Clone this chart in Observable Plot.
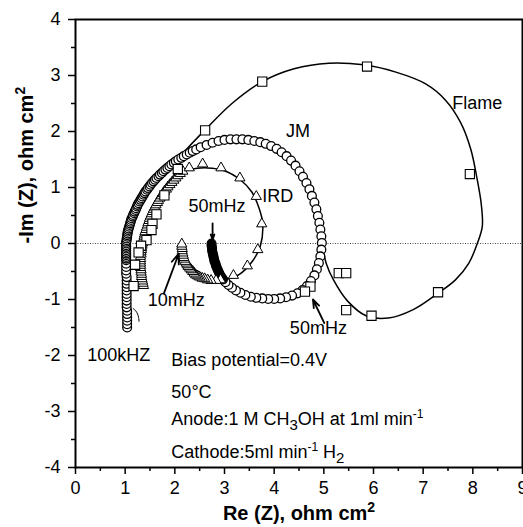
<!DOCTYPE html>
<html><head><meta charset="utf-8">
<script src="https://cdn.jsdelivr.net/npm/d3@7"></script>
<script src="https://cdn.jsdelivr.net/npm/@observablehq/plot@0.6"></script>
<style>html,body{margin:0;padding:0;background:#fff}</style>
</head><body><div id="chart"></div>
<script>
// ---------- axes ----------
const xTicks = [0,1,2,3,4,5,6,7,8,9];
const xMinor = [0.5,1.5,2.5,3.5,4.5,5.5,6.5,7.5,8.5];
const yTicks = [-4,-3,-2,-1,0,1,2,3,4];
const yMinor = [-3.5,-2.5,-1.5,-0.5,0.5,1.5,2.5,3.5];
const xTitle = "Re (Z), ohm cm²";
const yTitle = "-Im (Z), ohm cm²";

// ---------- Flame (squares + fitted line) ----------
const flameRe = [2.61,3.76,5.87,7.94,7.30,5.96,5.45,5.30,5.45,4.73,4.62,2.06,1.79,1.63,1.55,1.53,1.43,1.32,1.27,1.20,1.17];
const flameIm = [2.02,2.89,3.16,1.24,-0.87,-1.29,-1.19,-0.53,-0.53,-0.77,-0.86,1.33,0.86,0.52,0.35,0.24,0.06,-0.04,-0.16,-0.38,-0.76];
const flameFitRe = [1.75,2.0,2.6,3.15,3.76,4.4,5.1,5.8,6.45,7.05,7.45,7.76,7.96,8.08,8.17,8.19,8.09,7.92,7.65,7.28,6.8,6.3,5.85,5.47,5.2,5.05,4.99];
const flameFitIm = [1.25,1.47,2.02,2.5,2.89,3.12,3.22,3.19,3.06,2.85,2.56,2.15,1.68,1.18,0.7,0.3,0.0,-0.35,-0.65,-0.9,-1.18,-1.33,-1.29,-1.02,-0.66,-0.36,-0.12];

// ---------- JM (open circles) ----------
const jmRe = [
  1.04,1.04,1.04,1.04,1.04,1.04,1.03,1.03,1.03,1.03,1.03,1.03,1.03,1.03,1.03,1.03,1.02,1.02,1.02,1.02,1.02,1.02,1.02,1.02,1.02,1.02,1.02,1.02,1.02,1.02,
  1.02,1.02,1.03,1.03,1.04,1.04,1.05,1.05,1.06,1.07,1.08,1.09,1.10,1.11,1.12,1.13,1.15,1.16,1.18,1.19,1.21,1.22,1.24,1.25,1.27,1.29,1.31,1.33,1.35,1.37,
  1.39,1.41,1.44,1.46,1.49,1.51,1.54,1.57,1.60,1.63,1.67,1.70,1.74,1.77,1.81,1.85,1.89,1.93,1.98,2.02,2.07,2.13,2.18,2.24,2.30,2.36,2.43,
  2.52,2.64,2.76,2.88,3.00,3.12,3.24,3.36,3.48,3.60,3.72,3.83,3.94,4.05,4.15,4.25,4.34,4.43,4.51,4.58,4.65,4.71,4.76,4.81,4.85,4.88,4.91,4.93,4.95,4.96,
  4.95,4.93,4.90,4.86,4.81,4.74,4.66,4.57,4.47,4.36,4.24,4.12,4.00,3.88,3.76,3.64,3.53,3.42,3.32,3.23,3.15,3.08,3.02];
const jmIm = [
  -1.50,-1.44,-1.38,-1.32,-1.26,-1.20,-1.14,-1.08,-1.02,-0.96,-0.90,-0.84,-0.78,-0.72,-0.66,-0.60,-0.54,-0.48,-0.42,-0.36,-0.30,-0.27,-0.24,-0.21,-0.18,-0.15,-0.12,-0.09,-0.06,-0.03,
  0.00,0.03,0.06,0.09,0.12,0.15,0.18,0.21,0.24,0.27,0.30,0.33,0.36,0.39,0.42,0.45,0.48,0.51,0.54,0.57,0.60,0.63,0.66,0.69,0.72,0.75,0.78,0.81,0.84,0.87,
  0.90,0.93,0.96,0.99,1.02,1.05,1.08,1.11,1.14,1.17,1.20,1.23,1.26,1.29,1.32,1.35,1.38,1.41,1.44,1.47,1.50,1.53,1.56,1.59,1.62,1.65,1.68,
  1.72,1.76,1.80,1.83,1.85,1.86,1.86,1.86,1.85,1.83,1.81,1.78,1.74,1.69,1.63,1.56,1.48,1.39,1.29,1.19,1.08,0.97,0.85,0.73,0.61,0.49,0.37,0.25,0.13,0.01,
  -0.11,-0.23,-0.35,-0.46,-0.57,-0.67,-0.76,-0.83,-0.89,-0.93,-0.96,-0.98,-0.99,-0.99,-0.98,-0.97,-0.95,-0.92,-0.88,-0.84,-0.79,-0.74,-0.69];
// low-frequency end of JM: points so dense they merge into a solid band
const jmTailRe = [2.97,2.94,2.91,2.89,2.87,2.85,2.83,2.82,2.80,2.79,2.78,2.77,2.76,2.75,2.75,2.74,2.74];
const jmTailIm = [-0.64,-0.60,-0.56,-0.52,-0.48,-0.44,-0.40,-0.36,-0.32,-0.28,-0.24,-0.20,-0.16,-0.12,-0.08,-0.04,0.00];
// short fitted segment near 100 kHz
const jmFitRe = [1.16,1.21,1.25,1.27,1.28];
const jmFitIm = [-1.16,-1.20,-1.26,-1.32,-1.39];

// ---------- IRD (open triangles + fitted line) ----------
const irdRe = [
  1.37,1.36,1.35,1.34,1.33,1.33,1.32,1.32,1.31,1.31,1.31,1.31,1.31,1.31,1.32,1.32,1.33,1.33,1.34,1.35,1.36,1.37,1.38,1.39,1.40,1.42,1.43,1.45,1.46,1.48,
  1.49,1.51,1.53,1.55,1.57,1.60,1.62,1.65,1.67,1.70,1.73,1.76,1.79,1.83,1.86,1.90,1.94,1.98,2.02,2.06,2.11,2.16,
  2.29,2.56,2.93,3.31,3.64,3.75,3.67,3.46,3.18,
  2.92,2.83,2.73,2.66,2.60,2.55,2.50,2.46,2.42,2.39,2.36,2.33,2.30,2.27,2.25,2.23,2.21,2.19,2.18,2.17,2.16,2.15,2.15,2.14,2.14];
const irdIm = [
  -0.75,-0.71,-0.67,-0.63,-0.59,-0.55,-0.51,-0.47,-0.43,-0.39,-0.35,-0.31,-0.27,-0.23,-0.19,-0.15,-0.11,-0.07,-0.03,0.01,0.05,0.09,0.13,0.17,0.21,0.25,0.29,0.33,0.37,0.41,
  0.45,0.49,0.53,0.57,0.61,0.65,0.69,0.73,0.77,0.81,0.85,0.89,0.93,0.97,1.01,1.05,1.09,1.13,1.17,1.21,1.25,1.29,
  1.35,1.42,1.35,1.17,0.84,0.35,-0.11,-0.40,-0.57,
  -0.65,-0.66,-0.66,-0.65,-0.63,-0.62,-0.60,-0.58,-0.56,-0.53,-0.50,-0.47,-0.44,-0.41,-0.38,-0.35,-0.32,-0.28,-0.25,-0.21,-0.17,-0.13,-0.09,-0.05,-0.01];
const irdFitRe = [2.0,2.3,2.65,3.0,3.33,3.55,3.70,3.77,3.72,3.55,3.30,3.0,2.72,2.45,2.30,2.20,2.15];
const irdFitIm = [1.22,1.32,1.35,1.30,1.13,0.92,0.62,0.35,-0.05,-0.33,-0.55,-0.65,-0.67,-0.60,-0.45,-0.25,-0.05];

// ---------- labels, arrows, notes ----------
const labelText = ["Flame","JM","IRD","50mHz","10mHz","50mHz","100kHZ"];
const labelRe = [8.09,4.48,4.07,2.85,2.03,4.89,0.87];
const labelIm = [2.50,2.00,0.85,0.67,-1.02,-1.51,-1.99];
const arrowRe1 = [2.76,1.78,5.01];
const arrowIm1 = [0.36,-0.89,-1.42];
const arrowRe2 = [2.76,2.08,4.78];
const arrowIm2 = [0.07,-0.18,-1.00];
const noteText = ["Bias potential=0.4V","50°C","Anode:1 M CH₃OH at 1ml min⁻¹","Cathode:5ml min⁻¹ H₂"];
const noteRe = [1.93,1.93,1.93,1.93];
const noteIm = [-2.09,-2.65,-3.14,-3.73];

// ---------- build tables ----------
const zip = (xs, ys) => xs.map((x, i) => ({x, y: ys[i]}));
const flame = zip(flameRe, flameIm);
const flameFit = zip(flameFitRe, flameFitIm);
const jm = zip(jmRe.concat(jmTailRe), jmIm.concat(jmTailIm));
const jmTail = zip(jmTailRe, jmTailIm);
const jmFit = zip(jmFitRe, jmFitIm);
const ird = zip(irdRe, irdIm);
const irdFit = zip(irdFitRe, irdFitIm);
const labels = labelText.map((t, i) => ({t, x: labelRe[i], y: labelIm[i]}));
const notes = noteText.map((t, i) => ({t, x: noteRe[i], y: noteIm[i]}));
const arrows = arrowRe1.map((x1, i) => ({x1, y1: arrowIm1[i], x2: arrowRe2[i], y2: arrowIm2[i]}));

const font = "'Liberation Sans', Arial, Helvetica, sans-serif";

const chart = Plot.plot({
  width: 523, height: 527,
  marginLeft: 75, marginRight: 1, marginTop: 19, marginBottom: 60,
  x: {domain: [0, 9]},
  y: {domain: [-4, 4]},
  style: {fontFamily: font, fontSize: "18px", color: "black", background: "white"},
  marks: [
    Plot.ruleY([0], {stroke: "#444", strokeWidth: 1, strokeDasharray: "1,1.5"}),
    Plot.line(flameFit, {x: "x", y: "y", curve: "catmull-rom", stroke: "black", strokeWidth: 1.5}),
    Plot.line(irdFit, {x: "x", y: "y", curve: "catmull-rom", stroke: "black", strokeWidth: 1.5}),
    Plot.line(jmFit, {x: "x", y: "y", curve: "catmull-rom", stroke: "black", strokeWidth: 1}),
    Plot.dot(jm, {x: "x", y: "y", symbol: "circle", r: 4.4, fill: "white", stroke: "black", strokeWidth: 1.3}),
    Plot.line(jmTail, {x: "x", y: "y", curve: "catmull-rom", stroke: "black", strokeWidth: 8.5, strokeLinecap: "round"}),
    Plot.dot(ird, {x: "x", y: "y", symbol: "triangle", r: 3.8, fill: "white", stroke: "black", strokeWidth: 1}),
    Plot.dot(flame, {x: "x", y: "y", symbol: "square", r: 5.2, fill: "white", stroke: "black", strokeWidth: 1.1}),
    Plot.arrow(arrows, {x1: "x1", y1: "y1", x2: "x2", y2: "y2", stroke: "black", strokeWidth: 1.8, headLength: 9, headAngle: 40}),
    Plot.text(labels, {x: "x", y: "y", text: "t", fontSize: 18, fill: "black"}),
    Plot.text(notes, {x: "x", y: "y", text: "t", fontSize: 18, textAnchor: "start", fill: "black"}),
    Plot.frame({stroke: "black", strokeWidth: 2}),
    Plot.axisX({ticks: xTicks, tickSize: 7, tickPadding: 7, strokeWidth: 1.5, fontSize: 18, tickFormat: d => String(d), label: null}),
    Plot.axisX({ticks: xMinor, tickSize: 4, strokeWidth: 1.5, fill: "none", label: null}),
    Plot.axisY({ticks: yTicks, tickSize: 7, tickPadding: 8, strokeWidth: 1.5, fontSize: 18, tickFormat: d => String(d), label: null}),
    Plot.axisY({ticks: yMinor, tickSize: 4, strokeWidth: 1.5, fill: "none", label: null}),
    Plot.text([xTitle], {frameAnchor: "bottom", dy: 52, fontSize: 20, fontWeight: "bold", fill: "black"}),
    Plot.text([yTitle], {frameAnchor: "left", dx: -49, rotate: -90, fontSize: 20, fontWeight: "bold", fill: "black"})
  ]
});

// render sub/superscripts as real tspans
const subMap = {"₂": "2", "₃": "3"};
const supMap = {"⁻": "-", "¹": "1", "²": "2"};
chart.querySelectorAll("text").forEach(t => {
  const s = t.textContent;
  if (!/[₂₃⁻¹²]/.test(s)) return;
  const bold = s.includes("ohm");
  const runs = [];
  for (const ch of s) {
    const kind = subMap[ch] ? "sub" : supMap[ch] ? "sup" : "n";
    const c = subMap[ch] || supMap[ch] || ch;
    if (runs.length && runs[runs.length - 1].kind === kind) runs[runs.length - 1].text += c;
    else runs.push({kind, text: c});
  }
  while (t.firstChild) t.removeChild(t.firstChild);
  let shift = 0;
  for (const r of runs) {
    const ts = document.createElementNS("http://www.w3.org/2000/svg", "tspan");
    const target = r.kind === "sub" ? 5 : r.kind === "sup" ? (bold ? -8 : -7) : 0;
    ts.setAttribute("dy", target - shift);
    shift = target;
    if (r.kind === "sub") ts.setAttribute("font-size", 15);
    if (r.kind === "sup") ts.setAttribute("font-size", bold ? 14 : 12);
    ts.textContent = r.text;
    t.appendChild(ts);
  }
});

document.getElementById("chart").appendChild(chart);
</script>
</body></html>
